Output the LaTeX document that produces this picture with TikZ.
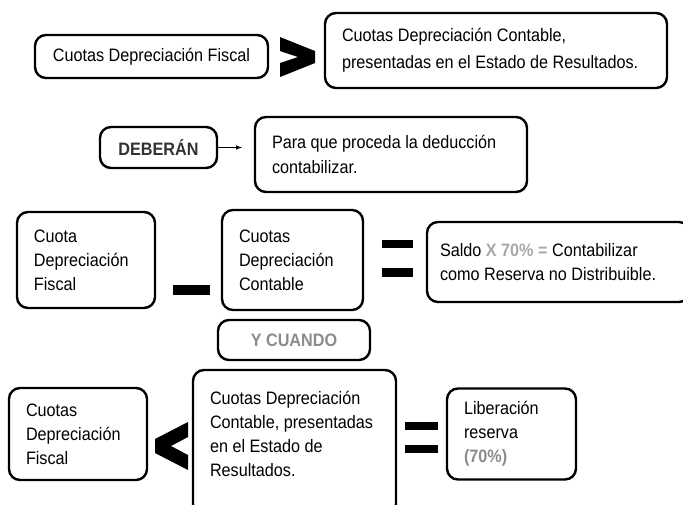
\documentclass[tikz,border=0pt]{standalone}
\usepackage{fontspec}
\setmainfont[FakeStretch = 0.9]{Liberation Sans}
\usetikzlibrary{arrows}
\definecolor{lightGray}{RGB}{168,168,168}
\definecolor{midGray}{RGB}{140,140,140}
\definecolor{darkText}{RGB}{50,50,50}

\begin{document}
\begin{tikzpicture}[x = 1pt, y = -1pt, font = \fontsize{18}{24}\selectfont]
\tikzstyle{boxStyle} = [draw, line width = 2.4pt, rounded corners = 11pt, inner sep = 0pt]
\tikzstyle{leftStyle} = [boxStyle, align = flush left, inner xsep = 17pt]
\tikzstyle{signStyle} = [fill = black]
\useasboundingbox (0,0) rectangle (683,504);
\node[boxStyle, minimum width = 233pt, minimum height = 43pt] (fiscalA) at (151.5,56.5) {Cuotas Depreciación Fiscal};
\node[leftStyle, text width = 308pt, minimum height = 75pt, font = \fontsize{18}{27}\selectfont] (contableA) at (496,50.5) {Cuotas Depreciación Contable,\\presentadas en el Estado de Resultados.};
\node[boxStyle, minimum width = 117pt, minimum height = 41pt, text = darkText, font = \fontsize{18}{24}\selectfont\bfseries] (deberan) at (158.5,147.5) {DEBERÁN};
\node[leftStyle, text width = 238pt, minimum height = 75pt, font = \fontsize{18}{25}\selectfont] (para) at (391,154.5) {Para que proceda la deducción\\contabilizar.};
\node[leftStyle, text width = 104pt, minimum height = 96pt] (fiscalB) at (86,260) {Cuota\\Depreciación\\Fiscal};
\node[leftStyle, text width = 107pt, minimum height = 100pt] (contableB) at (292.5,260) {Cuotas\\Depreciación\\Contable};
\node[boxStyle, minimum width = 152pt, minimum height = 40pt, text = midGray, font = \fontsize{18}{24}\selectfont\bfseries] (ycuando) at (294,340) {Y CUANDO};
\node[leftStyle, inner xsep = 13pt, text width = 237pt, minimum height = 80pt] (saldo) at (558.5,262) {Saldo \textcolor{lightGray}{\bfseries X 70\% =} Contabilizar\\como Reserva no Distribuible.};
\node[leftStyle, text width = 104pt, minimum height = 92pt] (fiscalC) at (78,434) {Cuotas\\Depreciación\\Fiscal};
\node[leftStyle, text width = 169pt, minimum height = 145pt] (contableC) at (294.5,442.5) {Cuotas Depreciación\\Contable, presentadas\\en el Estado de\\Resultados.\\[-14pt] \strut};
\node[leftStyle, text width = 95pt, minimum height = 91pt] (liberacion) at (511.5,434) {Liberación\\reserva\\\textcolor{midGray}{\bfseries(70\%)}};
\coordinate (arrowTip) at (242,147.5);
\draw[-latex, line width = 1pt] (deberan.east) -- (arrowTip);
\fill[signStyle] (280,37) -- (315,51) -- (315,63) -- (280,77) -- (280,63) -- (298,57) -- (280,51) -- cycle;
\fill[signStyle] (173,285) rectangle (210,295);
\fill[signStyle] (382,240) rectangle (413,248);
\fill[signStyle] (382,268) rectangle (413,277);
\fill[signStyle] (188,422) -- (155,439) -- (155,453) -- (188,470) -- (188,455) -- (171,446) -- (188,437) -- cycle;
\fill[signStyle] (405,422) rectangle (438,430);
\fill[signStyle] (405,445) rectangle (438,453);
\end{tikzpicture}
\end{document}
